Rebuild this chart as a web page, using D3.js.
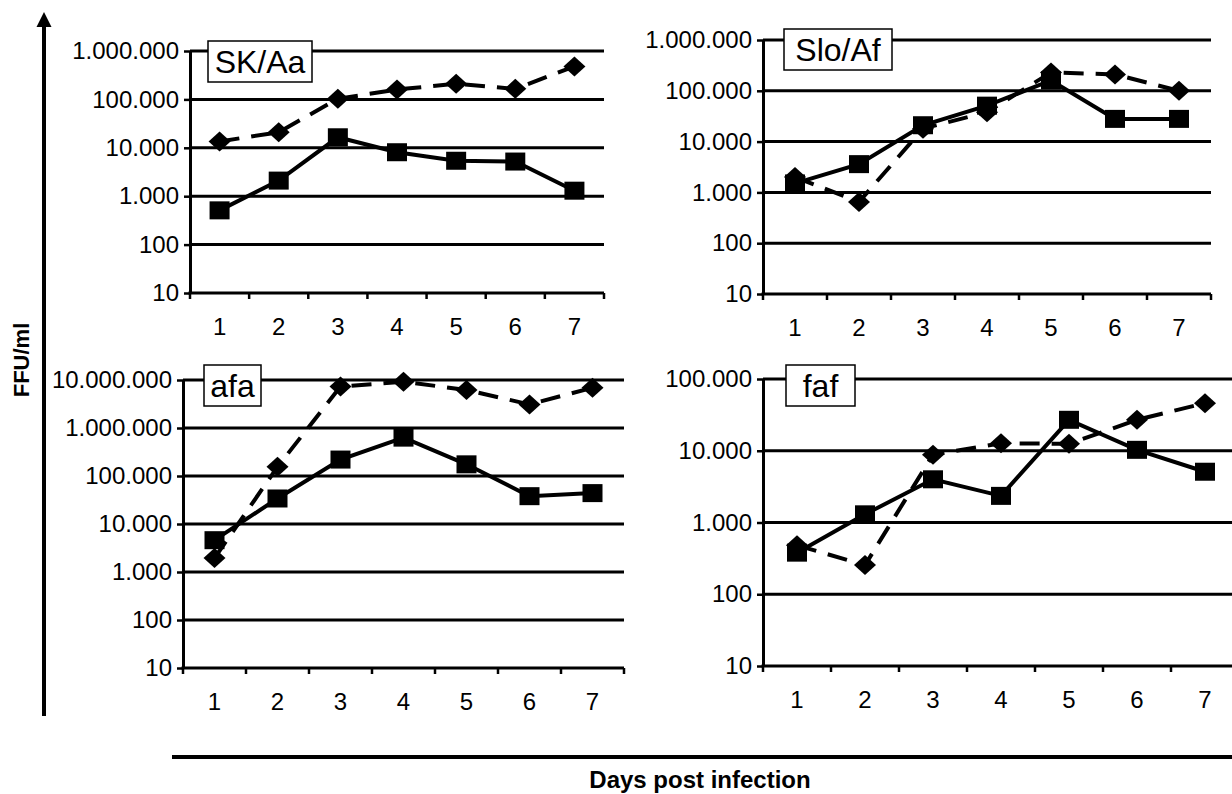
<!DOCTYPE html>
<html>
<head>
<meta charset="utf-8">
<script src="https://cdn.jsdelivr.net/npm/d3@7"></script>
<style>
body { margin: 0; background: #fff; }
svg { display: block; font-family: "Liberation Sans", Arial, sans-serif; }
</style>
</head>
<body>
<svg id="chart" width="1232" height="794"></svg>
<script>
var days = [1, 2, 3, 4, 5, 6, 7]

// FFU/ml per day, solid = squares, dashed = diamonds
var skaa_solid  = [510, 2100, 16500, 8100, 5400, 5200, 1300]
var skaa_dash   = [13500, 21000, 103000, 160000, 210000, 165000, 480000]
var sloaf_solid = [1500, 3600, 21000, 51000, 160000, 28000, 28000]
var sloaf_dash  = [2000, 650, 18000, 38000, 230000, 210000, 100000]
var afa_solid   = [4600, 34000, 220000, 630000, 175000, 38000, 44000]
var afa_dash    = [1950, 155000, 7300000, 9200000, 6200000, 3100000, 6900000]
var faf_solid   = [380, 1300, 4000, 2350, 27000, 10300, 5100]
var faf_dash    = [480, 255, 8800, 12700, 12500, 27000, 46000]

var ticks_1e6 = [10, 100, 1000, 10000, 100000, 1000000]
var ticks_1e7 = [10, 100, 1000, 10000, 100000, 1000000, 10000000]
var ticks_1e5 = [10, 100, 1000, 10000, 100000]

var yTitle = 'FFU/ml'
var xTitle = 'Days post infection'

// layout of the four panels
var panels = [
  {name: 'SK/Aa',  solid: skaa_solid,  dash: skaa_dash,  ticks: ticks_1e6, x0: 190, x1: 604,  y0: 293, y1: 51,  bx: 18, by: -10, bw: 104},
  {name: 'Slo/Af', solid: sloaf_solid, dash: sloaf_dash, ticks: ticks_1e6, x0: 763, x1: 1211, y0: 294, y1: 40,  bx: 21, by: -11, bw: 108},
  {name: 'afa',    solid: afa_solid,   dash: afa_dash,   ticks: ticks_1e7, x0: 183, x1: 624,  y0: 668, y1: 380, bx: 21, by: -15, bw: 57},
  {name: 'faf',    solid: faf_solid,   dash: faf_dash,   ticks: ticks_1e5, x0: 763, x1: 1239, y0: 666, y1: 379, bx: 23, by: -14, bw: 69}
]

var svg = d3.select('#chart')
var font = '"Liberation Sans", Arial, sans-serif'

var locale = d3.formatLocale({decimal: ',', thousands: '.', grouping: [3], currency: ['', '']})
var fmt = locale.format(',d')

function diamond(cx, cy) {
  return 'M' + cx + ',' + (cy - 10) + 'L' + (cx + 11) + ',' + cy + 'L' + cx + ',' + (cy + 10) + 'L' + (cx - 11) + ',' + cy + 'Z'
}

panels.forEach(function (p) {
  var g = svg.append('g')

  var x = d3.scaleBand().domain(days).range([p.x0, p.x1])
  var y = d3.scaleLog().domain([p.ticks[0], p.ticks[p.ticks.length - 1]]).range([p.y0, p.y1])
  var half = x.bandwidth() / 2

  // gridlines
  g.selectAll('line.grid').data(p.ticks.slice(1)).enter().append('line')
      .attr('class', 'grid')
      .attr('x1', p.x0).attr('x2', p.x1)
      .attr('y1', function (d) { return y(d) }).attr('y2', function (d) { return y(d) })
      .attr('stroke', '#000').attr('stroke-width', 3)

  // y axis
  var ya = g.append('g').attr('transform', 'translate(' + p.x0 + ',0)')
      .call(d3.axisLeft(y).tickValues(p.ticks).tickFormat(fmt).tickSize(6).tickSizeOuter(0).tickPadding(5))
  ya.attr('font-size', 24).attr('font-family', font)
  ya.select('.domain').attr('stroke-width', 3)
  ya.selectAll('.tick line').attr('stroke-width', 2.5)
  ya.selectAll('.tick text').attr('fill', '#000')

  // x axis, ticks between the days
  g.append('line')
      .attr('x1', p.x0 - 1.5).attr('x2', p.x1)
      .attr('y1', p.y0).attr('y2', p.y0)
      .attr('stroke', '#000').attr('stroke-width', 3)

  var edges = days.map(function (d) { return x(d) }).concat([x(days[days.length - 1]) + x.bandwidth()])
  g.selectAll('line.xtick').data(edges).enter().append('line')
      .attr('class', 'xtick')
      .attr('x1', function (d) { return d }).attr('x2', function (d) { return d })
      .attr('y1', p.y0).attr('y2', p.y0 + 6)
      .attr('stroke', '#000').attr('stroke-width', 2.5)

  g.selectAll('text.xlab').data(days).enter().append('text')
      .attr('class', 'xlab')
      .attr('x', function (d) { return x(d) + half })
      .attr('y', p.y0 + 34)
      .attr('dy', '0.35em')
      .attr('text-anchor', 'middle')
      .attr('font-size', 24)
      .text(function (d) { return d })

  var line = d3.line()
      .x(function (d, i) { return x(days[i]) + half })
      .y(function (d) { return y(d) })

  // dashed series with diamonds
  g.append('path').datum(p.dash)
      .attr('d', line)
      .attr('fill', 'none').attr('stroke', '#000').attr('stroke-width', 4)
      .attr('stroke-dasharray', '20,12')

  g.selectAll('path.dia').data(p.dash).enter().append('path')
      .attr('class', 'dia')
      .attr('d', function (d, i) { return diamond(x(days[i]) + half, y(d)) })
      .attr('fill', '#000')

  // solid series with squares
  g.append('path').datum(p.solid)
      .attr('d', line)
      .attr('fill', 'none').attr('stroke', '#000').attr('stroke-width', 4)

  g.selectAll('rect.sq').data(p.solid).enter().append('rect')
      .attr('class', 'sq')
      .attr('x', function (d, i) { return x(days[i]) + half - 10 })
      .attr('y', function (d) { return y(d) - 9 })
      .attr('width', 20).attr('height', 18)
      .attr('fill', '#000')

  // panel label
  var bx = p.x0 + p.bx, by = p.y1 + p.by
  g.append('rect')
      .attr('x', bx).attr('y', by)
      .attr('width', p.bw).attr('height', 41)
      .attr('fill', '#fff').attr('stroke', '#000').attr('stroke-width', 1.5)
  g.append('text')
      .attr('x', bx + p.bw / 2).attr('y', by + 32)
      .attr('text-anchor', 'middle')
      .attr('font-size', 32)
      .text(p.name)
})

// big y arrow
svg.append('line')
    .attr('x1', 44).attr('x2', 44).attr('y1', 24).attr('y2', 716)
    .attr('stroke', '#000').attr('stroke-width', 4)
svg.append('path')
    .attr('d', 'M44,12L51.5,27L36.5,27Z')
    .attr('fill', '#000')

svg.append('text')
    .attr('transform', 'translate(21,360) rotate(-90)')
    .attr('dy', '0.35em')
    .attr('text-anchor', 'middle')
    .attr('font-size', 22).attr('font-weight', 'bold')
    .text(yTitle)

// bottom bar and title
svg.append('line')
    .attr('x1', 172).attr('x2', 1232).attr('y1', 757).attr('y2', 757)
    .attr('stroke', '#000').attr('stroke-width', 4)

svg.append('text')
    .attr('x', 700).attr('y', 788)
    .attr('text-anchor', 'middle')
    .attr('font-size', 24).attr('font-weight', 'bold')
    .text(xTitle)
</script>
</body>
</html>
